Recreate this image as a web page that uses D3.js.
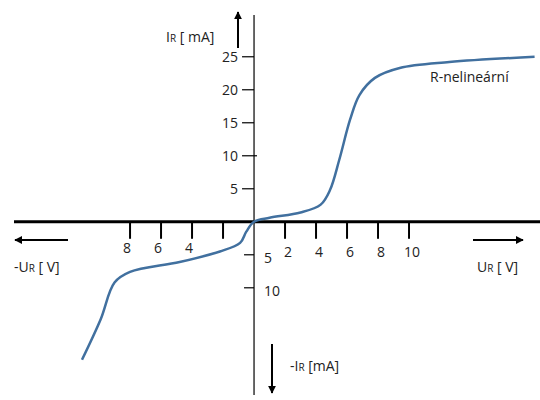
<!DOCTYPE html><html><head><meta charset="utf-8">
<script src="https://cdn.jsdelivr.net/npm/d3@7"></script>
<style>body{margin:0;background:#fff}text{font-family:"Open Sans",Lato,sans-serif;font-size:14px;fill:#222}</style></head><body>
<svg id="c" width="540" height="400"></svg>
<script>
const curveU = [-11.1,-9.9,-9.0,-8.0,-4.8,-2.2,-0.9,-0.5,0,1.0,3.0,4.3,4.9,5.5,6.2,6.8,7.8,9.4,12.6,18.1];
const curveI = [-20.9,-14.8,-9.2,-7.6,-6.1,-4.5,-3.2,-1.5,0,0.6,1.4,2.6,4.8,9.4,15.5,19.2,21.8,23.3,24.2,25];
const xTicksPos = [2,4,6,8,10];
const xTicksNeg = [-8,-6,-4,-2];
const xTickLabelsNeg = ["8","6","4",""];
const yTicksPos = [5,10,15,20,25];
const yTicksNeg = [-5,-10];

const svg = d3.select("#c");
const x = d3.scaleLinear().domain([-16.39,18.45]).range([0,540]);
const y = d3.scaleLinear().domain([33.6,-27.0]).range([0,400]);
const x0 = x(0), y0 = y(0);

// axes lines
svg.append("line").attr("x1",14).attr("x2",540).attr("y1",y0).attr("y2",y0).attr("stroke","#000").attr("stroke-width",3);
svg.append("line").attr("x1",x0).attr("x2",x0).attr("y1",15).attr("y2",395).attr("stroke","#000").attr("stroke-width",1.2);

// x ticks
const xt = xTicksPos.concat(xTicksNeg);
svg.selectAll(".xt").data(xt).enter().append("line").attr("x1",d=>x(d)).attr("x2",d=>x(d)).attr("y1",y0).attr("y2",y0+17).attr("stroke","#000").attr("stroke-width",2);
svg.selectAll(".xlp").data(xTicksPos).enter().append("text").attr("x",d=>x(d)+3).attr("y",y0+35).attr("text-anchor","middle").text(d=>d);
svg.selectAll(".xln").data(xTicksNeg).enter().append("text").attr("x",d=>x(d)-3).attr("y",y0+31).attr("text-anchor","middle").text((d,i)=>xTickLabelsNeg[i]);

// y ticks
svg.selectAll(".yt").data(yTicksPos).enter().append("line").attr("x1",x0-12).attr("x2",d=>d===10?x0+3:x0).attr("y1",d=>y(d)).attr("y2",d=>y(d)).attr("stroke","#000").attr("stroke-width",1.2);
svg.selectAll(".yl").data(yTicksPos).enter().append("text").attr("x",x0-16).attr("y",d=>y(d)+5).attr("text-anchor","end").text(d=>d);
svg.selectAll(".ytn").data(yTicksNeg).enter().append("line").attr("x1",x0-10).attr("x2",x0).attr("y1",d=>y(d)).attr("y2",d=>y(d)).attr("stroke","#000").attr("stroke-width",1.2);
svg.selectAll(".yln").data(yTicksNeg).enter().append("text").attr("x",x0+10).attr("y",d=>y(d)+8).attr("text-anchor","start").text(d=>-d);

// arrows
const defs = svg.append("defs");
defs.append("marker").attr("id","ah").attr("viewBox","0 0 10 10").attr("refX",9).attr("refY",5).attr("markerWidth",4).attr("markerHeight",4).attr("orient","auto")
 .append("path").attr("d","M0,0L10,5L0,10z").attr("fill","#000");
function arrow(a,b,c,d){svg.append("line").attr("x1",a).attr("y1",b).attr("x2",c).attr("y2",d).attr("stroke","#000").attr("stroke-width",2).attr("marker-end","url(#ah)");}
arrow(68,240,15,240); arrow(473,240,523,240); arrow(238,48,238,12); arrow(272,344,272,393);

// curve
const pts = curveU.map((u,i)=>[u,curveI[i]]);
svg.append("path").datum(pts).attr("fill","none").attr("stroke","#41709f").attr("stroke-width",2.5)
 .attr("d",d3.line().x(d=>x(d[0])).y(d=>y(d[1])).curve(d3.curveCatmullRom));

// labels
function lab(px,py,main,sub,rest,anchor){const t=svg.append("text").attr("x",px).attr("y",py).attr("text-anchor",anchor||"start");
 t.append("tspan").text(main); if(sub){t.append("tspan").attr("font-size","10px").text(sub);} t.append("tspan").text(rest);}
lab(166,42,"I","R"," [ mA]");
lab(290,371,"-I","R"," [mA]");
lab(14,272,"-U","R"," [ V]");
lab(477,272,"U","R"," [ V]");
lab(430,82,"R-nelineární","","");
</script></body></html>
